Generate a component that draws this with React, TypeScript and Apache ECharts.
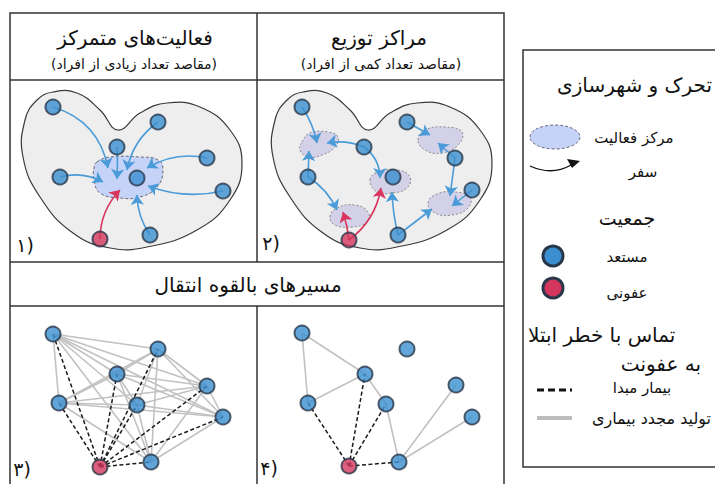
import React, { useEffect, useRef } from 'react';
import * as echarts from 'echarts';

// ---------- data (page pixel space: x right, y down) ----------
// node positions [x, y, kind] kind 0 = susceptible, 1 = infected
const nodes1 = [[53,107,0],[158,122,0],[117,147,0],[207,158,0],[60,177,0],[137,178,0],[223,191,0],[150,235,0],[100,239,1]];
const nodes2 = [[302,107,0],[407,122,0],[364,147,0],[455,158,0],[308,177,0],[393,177,0],[472,190,0],[398,235,0],[349,240,1]];
const nodes3 = [[53,334,0],[158,349,0],[117,374,0],[207,386,0],[59,403,0],[137,405,0],[223,417,0],[151,462,0],[100,467,1]];
const nodes4 = [[302,333,0],[407,349,0],[365,374,0],[456,385,0],[308,403,0],[386,404,0],[472,417,0],[399,462,0],[349,466,1]];

// trips [x1, y1, x2, y2, curveness, kind]
const trips1 = [
  [53,107,108,168,0.3,0],
  [117,147,117,179,0.03,0],
  [158,122,127,170,-0.2,0],
  [207,158,147,168,-0.2,0],
  [60,177,103,182,0.2,0],
  [223,191,148,186,0.15,0],
  [150,235,137,195,0.15,0],
  [100,239,120,190,0.2,1],
];
const trips2 = [
  [302,107,317,143,0.1,0],
  [364,147,327,143,-0.15,0],
  [308,177,309,151,0,0],
  [308,177,337,210,0.15,0],
  [364,147,380,178,0.25,0],
  [349,240,343,212,-0.05,1],
  [349,240,381,188,-0.2,1],
  [398,235,392,192,0.05,0],
  [398,235,432,209,0,0],
  [407,122,430,135,0,0],
  [455,158,438,143,0,0],
  [455,158,450,196,0,0],
  [472,190,452,206,0,0],
];

// contact edges (node index pairs)
const regen3 = [[0,1],[0,2],[0,3],[0,4],[0,5],[0,6],[0,7],[1,2],[1,3],[1,4],[1,5],[1,6],[1,7],[2,3],[2,4],[2,5],[2,6],[2,7],[3,4],[3,5],[3,6],[3,7],[4,5],[4,6],[4,7],[5,6],[5,7],[6,7]];
const source3 = [[8,0],[8,1],[8,2],[8,3],[8,4],[8,5],[8,6],[8,7]];
const regen4 = [[0,2],[0,4],[4,2],[2,5],[5,7],[7,3],[7,6]];
const source4 = [[8,4],[8,2],[8,5],[8,7]];

// region outlines
const cityOutlines = [
  [[25,120],[37,100],[53,92],[77,93],[100,110],[118,130],[140,113],[167,103],[200,107],[230,130],[242,163],[230,200],[197,230],[147,247],[110,248],[73,233],[40,197],[23,157]],
  [[275,120],[287,100],[303,92],[327,93],[350,110],[368,130],[390,113],[417,103],[450,107],[480,130],[492,163],[480,200],[447,230],[397,247],[360,248],[323,233],[290,197],[273,157]],
];
const hubOutlines = [
  [[97,162],[110,157],[140,157],[158,160],[163,170],[157,187],[140,197],[120,198],[100,193],[94,180],[94,168]],
];
const smallHubOutlines = [
  [[302,142],[310,133],[328,132],[338,137],[335,147],[322,155],[308,157],[300,150]],
  [[370,180],[378,172],[398,170],[410,177],[407,188],[392,193],[377,192]],
  [[418,140],[425,130],[445,127],[462,132],[458,145],[442,153],[425,150]],
  [[428,203],[437,194],[455,192],[470,197],[468,208],[452,215],[435,213]],
  [[330,217],[337,208],[355,205],[368,212],[367,222],[352,227],[335,225]],
];

const headerTitles = ['فعالیت‌های متمرکز', 'مراکز توزیع'];
const headerSubtitles = ['(مقاصد تعداد زیادی از افراد)', '(مقاصد تعداد کمی از افراد)'];
const bandTitle = 'مسیرهای بالقوه انتقال';
const panelLabels = ['۱)', '۲)', '۳)', '۴)'];
const legendTexts = {
  title: 'تحرک و شهرسازی',
  hub: 'مرکز فعالیت',
  trip: 'سفر',
  population: 'جمعیت',
  susceptible: 'مستعد',
  infected: 'عفونی',
  exposure1: 'تماس با خطر ابتلا',
  exposure2: 'به عفونت',
  source: 'بیمار مبدا',
  regen: 'تولید مجدد بیماری',
};

// ---------- styles ----------
const BLUE = '#3b8fd0';
const RED = '#d3365c';
const BORDER = '#283748';
const ARROW_BLUE = '#4a9bd7';
const ARROW_RED = '#d8365e';
const FONT = "'DejaVu Sans', sans-serif";

function nodeSeries(nodes: number[][]) {
  return {
    type: 'scatter',
    z: 5,
    symbolSize: 15,
    data: nodes.map((n) => ({
      value: [n[0], n[1]],
      itemStyle: { color: n[2] === 1 ? RED : BLUE, borderColor: BORDER, borderWidth: 2 },
    })),
  };
}

function tripSeries(trips: number[][]) {
  return {
    type: 'lines',
    coordinateSystem: 'cartesian2d',
    z: 4,
    symbol: ['none', 'arrow'],
    symbolSize: 10,
    data: trips.map((t) => ({
      coords: [[t[0], t[1]], [t[2], t[3]]],
      lineStyle: { color: t[5] === 1 ? ARROW_RED : ARROW_BLUE, width: 1.6, curveness: t[4], opacity: 1 },
    })),
  };
}

function edgeSeries(nodes: number[][], pairs: number[][], dashed: boolean) {
  return {
    type: 'lines',
    coordinateSystem: 'cartesian2d',
    z: dashed ? 4 : 3,
    data: pairs.map((p) => ({
      coords: [[nodes[p[0]][0], nodes[p[0]][1]], [nodes[p[1]][0], nodes[p[1]][1]]],
    })),
    lineStyle: dashed
      ? { color: '#1a1a1a', width: 1.5, type: [4, 2.5], opacity: 1 }
      : { color: '#c2c2c2', width: 1.6, type: 'solid', opacity: 1 },
  };
}

function regionSeries(outlines: number[][][], style: any, z: number) {
  return {
    type: 'custom',
    z,
    data: outlines.map((o) => o[0]),
    renderItem: (params: any, api: any) => {
      const pts = outlines[params.dataIndex].map((p) => api.coord(p));
      return { type: 'polygon', shape: { points: pts, smooth: 0.45 }, style };
    },
  };
}

function txt(text: string, x: number, y: number, size: number, align = 'center', weight = 'normal') {
  return {
    type: 'text',
    x,
    y,
    z: 10,
    style: { text, fontSize: size, fontFamily: FONT, fontWeight: weight, fill: '#111', textAlign: align, textVerticalAlign: 'middle' },
  };
}

function ln(x1: number, y1: number, x2: number, y2: number) {
  return { type: 'line', z: 9, shape: { x1, y1, x2, y2 }, style: { stroke: '#333', lineWidth: 1.5 } };
}

export default function App() {
  const ref = useRef<HTMLDivElement>(null);
  useEffect(() => {
    if (!ref.current) return;
    const chart = echarts.init(ref.current, undefined, { renderer: 'svg' });
    chart.setOption({
      animation: false,
      backgroundColor: '#fff',
      grid: { left: 0, right: 0, top: 0, bottom: 0 },
      xAxis: { type: 'value', min: 0, max: 715, show: false },
      yAxis: { type: 'value', min: 0, max: 484, inverse: true, show: false },
      series: [
        regionSeries(cityOutlines, { fill: '#eeeeee', stroke: '#3a3a3a', lineWidth: 1.2 }, 1),
        regionSeries(hubOutlines, { fill: '#c6d3f8', stroke: '#6a6a7a', lineWidth: 1, lineDash: [3, 2] }, 2),
        regionSeries(smallHubOutlines, { fill: '#d3d1e8', stroke: '#8a8a8a', lineWidth: 1, lineDash: [2, 2] }, 2),
        tripSeries(trips1),
        tripSeries(trips2),
        edgeSeries(nodes3, regen3, false),
        edgeSeries(nodes3, source3, true),
        edgeSeries(nodes4, regen4, false),
        edgeSeries(nodes4, source4, true),
        nodeSeries(nodes1),
        nodeSeries(nodes2),
        nodeSeries(nodes3),
        nodeSeries(nodes4),
      ],
      graphic: [
        // table frame
        { type: 'rect', z: 9, shape: { x: 10, y: 13, width: 494, height: 490 }, style: { fill: 'none', stroke: '#333', lineWidth: 1.5 } },
        ln(10, 80, 504, 80),
        ln(10, 262, 504, 262),
        ln(10, 306, 504, 306),
        ln(257, 13, 257, 262),
        ln(257, 306, 257, 490),
        txt(headerTitles[0], 135, 38, 20),
        txt(headerSubtitles[0], 134, 64, 14),
        txt(headerTitles[1], 379, 38, 20),
        txt(headerSubtitles[1], 381, 64, 14),
        txt(bandTitle, 248, 285, 20),
        txt(panelLabels[0], 25, 245, 19),
        txt(panelLabels[1], 271, 243, 19),
        txt(panelLabels[2], 22, 469, 19),
        txt(panelLabels[3], 269, 468, 19),
        // legend frame
        { type: 'rect', z: 9, shape: { x: 523, y: 50, width: 230, height: 417 }, style: { fill: 'none', stroke: '#333', lineWidth: 1.5 } },
        txt(legendTexts.title, 712, 85, 20, 'right'),
        { type: 'ellipse', z: 10, shape: { cx: 555, cy: 137, rx: 25, ry: 12 }, style: { fill: '#c6d3f8', stroke: '#6a6a7a', lineWidth: 1, lineDash: [3, 2] } },
        txt(legendTexts.hub, 634, 138, 15),
        { type: 'bezierCurve', z: 10, shape: { x1: 530, y1: 166, cpx1: 552, cpy1: 176, x2: 571, y2: 165 }, style: { stroke: '#111', lineWidth: 1.3, fill: 'none' } },
        { type: 'polygon', z: 10, shape: { points: [[580, 161], [567, 159], [572, 168]] }, style: { fill: '#111' } },
        txt(legendTexts.trip, 643, 172, 15),
        txt(legendTexts.population, 627, 218, 19),
        { type: 'circle', z: 10, shape: { cx: 553, cy: 256, r: 10 }, style: { fill: BLUE, stroke: BORDER, lineWidth: 3 } },
        txt(legendTexts.susceptible, 627, 257, 15),
        { type: 'circle', z: 10, shape: { cx: 553, cy: 288, r: 10 }, style: { fill: RED, stroke: BORDER, lineWidth: 3 } },
        txt(legendTexts.infected, 627, 293, 15),
        txt(legendTexts.exposure1, 528, 335, 20, 'left'),
        txt(legendTexts.exposure2, 701, 364, 20, 'right'),
        { type: 'line', z: 10, shape: { x1: 537, y1: 390, x2: 572, y2: 390 }, style: { stroke: '#111', lineWidth: 3, lineDash: [7, 4] } },
        txt(legendTexts.source, 642, 388, 15),
        { type: 'line', z: 10, shape: { x1: 537, y1: 418, x2: 572, y2: 418 }, style: { stroke: '#bdbdbd', lineWidth: 4 } },
        txt(legendTexts.regen, 711, 418, 16, 'right'),
      ],
    });
    return () => chart.dispose();
  }, []);
  return <div ref={ref} style={{ position: 'fixed', left: 0, top: 0, width: 715, height: 484 }} />;
}
